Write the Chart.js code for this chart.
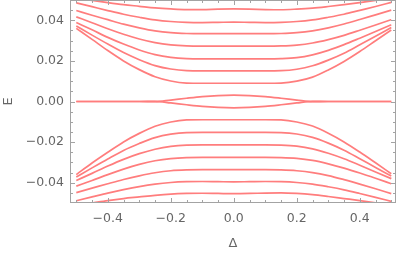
<!DOCTYPE html>
<html><head><meta charset="utf-8">
<style>html,body{margin:0;padding:0;background:#fff;}</style>
<script src="https://cdn.jsdelivr.net/npm/chart.js@4/dist/chart.umd.min.js"></script>
</head><body>
<canvas id="c" width="399" height="254"></canvas>
<script>
// ---- data ----
const delta = [-0.5,-0.45,-0.4,-0.35,-0.3,-0.25,-0.2,-0.15,-0.1,-0.05,0,0.05,0.1,0.15,0.2,0.25,0.3,0.35,0.4,0.45,0.5];

const up1 = [0.0360,0.0306,0.0251,0.0200,0.0157,0.0122,0.0101,0.0091,0.0090,0.0090,0.0090,0.0090,0.0090,0.0091,0.0100,0.0120,0.0155,0.0197,0.0246,0.0299,0.0352];
const up2 = [0.0372,0.0327,0.0283,0.0241,0.0206,0.0177,0.0160,0.0152,0.0151,0.0151,0.0151,0.0151,0.0151,0.0152,0.0159,0.0176,0.0204,0.0238,0.0279,0.0321,0.0364];
const up3 = [0.0389,0.0353,0.0316,0.0283,0.0254,0.0231,0.0217,0.0211,0.0210,0.0210,0.0210,0.0210,0.0210,0.0211,0.0216,0.0230,0.0252,0.0280,0.0312,0.0345,0.0378];
const up4 = [0.0417,0.0388,0.0358,0.0331,0.0308,0.0290,0.0279,0.0274,0.0273,0.0273,0.0273,0.0273,0.0273,0.0274,0.0278,0.0288,0.0305,0.0326,0.0351,0.0377,0.0403];
const up5 = [0.0448,0.0425,0.0403,0.0381,0.0363,0.0348,0.0339,0.0335,0.0334,0.0334,0.0334,0.0334,0.0334,0.0335,0.0339,0.0348,0.0363,0.0382,0.0404,0.0427,0.0450];
const up6 = [0.0486,0.0467,0.0448,0.0430,0.0415,0.0402,0.0394,0.0390,0.0389,0.0390,0.0391,0.0390,0.0389,0.0390,0.0394,0.0402,0.0415,0.0430,0.0449,0.0468,0.0488];
const up7 = [0.0509,0.0498,0.0487,0.0477,0.0469,0.0461,0.0456,0.0453,0.0453,0.0455,0.0456,0.0455,0.0453,0.0452,0.0455,0.0460,0.0468,0.0477,0.0487,0.0498,0.0509];

const splitUp   = [0,0,0,0,0,-0.0001,0.0007,0.0016,0.0024,0.0029,0.0031,0.0029,0.0024,0.0016,0.0007,-0.0001,0,0,0,0,0];
const splitDown = [0,0,0,0,0,0.0001,-0.0007,-0.0016,-0.0024,-0.0029,-0.0031,-0.0029,-0.0024,-0.0016,-0.0007,0.0001,0,0,0,0,0];

const lo1 = [-0.0360,-0.0303,-0.0250,-0.0199,-0.0157,-0.0122,-0.0101,-0.0091,-0.0090,-0.0090,-0.0090,-0.0090,-0.0090,-0.0091,-0.0101,-0.0121,-0.0156,-0.0199,-0.0249,-0.0302,-0.0356];
const lo2 = [-0.0372,-0.0327,-0.0283,-0.0241,-0.0207,-0.0178,-0.0161,-0.0153,-0.0152,-0.0152,-0.0152,-0.0152,-0.0152,-0.0153,-0.0160,-0.0177,-0.0205,-0.0240,-0.0282,-0.0325,-0.0367];
const lo3 = [-0.0389,-0.0354,-0.0318,-0.0285,-0.0257,-0.0235,-0.0221,-0.0215,-0.0214,-0.0214,-0.0214,-0.0214,-0.0214,-0.0215,-0.0220,-0.0233,-0.0255,-0.0282,-0.0314,-0.0347,-0.0380];
const lo4 = [-0.0417,-0.0389,-0.0360,-0.0333,-0.0310,-0.0292,-0.0281,-0.0276,-0.0275,-0.0275,-0.0275,-0.0275,-0.0275,-0.0276,-0.0280,-0.0290,-0.0307,-0.0328,-0.0352,-0.0378,-0.0405];
const lo5 = [-0.0449,-0.0427,-0.0405,-0.0384,-0.0366,-0.0351,-0.0341,-0.0337,-0.0336,-0.0336,-0.0336,-0.0336,-0.0336,-0.0337,-0.0341,-0.0350,-0.0365,-0.0385,-0.0407,-0.0430,-0.0454];
const lo6 = [-0.0489,-0.0470,-0.0451,-0.0434,-0.0419,-0.0407,-0.0399,-0.0395,-0.0394,-0.0395,-0.0396,-0.0395,-0.0394,-0.0395,-0.0399,-0.0407,-0.0420,-0.0435,-0.0453,-0.0472,-0.0492];
const lo7 = [-0.0512,-0.0500,-0.0488,-0.0478,-0.0470,-0.0462,-0.0456,-0.0453,-0.0452,-0.0453,-0.0454,-0.0453,-0.0451,-0.0450,-0.0453,-0.0459,-0.0468,-0.0478,-0.0488,-0.0499,-0.0511];

const xTickLabels = [-0.4,-0.2,0,0.2,0.4];
const yTickLabels = [-0.04,-0.02,0,0.02,0.04];
const xMinorStep = 0.05, yMinorStep = 0.005;

const curves = [up1,up2,up3,up4,up5,up6,up7,splitUp,splitDown,lo1,lo2,lo3,lo4,lo5,lo6,lo7];
const lineColor = 'rgb(255,125,125)';

const datasets = curves.map(arr => ({
  data: delta.map((d,i)=>({x:d,y:arr[i]})),
  borderColor: lineColor,
  borderWidth: 1.7,
  pointRadius: 0,
  fill: false,
  cubicInterpolationMode: 'monotone',
  clip: 0
}));

const fmt = (v, dig) => (v < 0 ? '\u2212' : '') + Math.abs(v).toFixed(dig);

const frameTicks = {
  id: 'frameTicks',
  afterDraw(chart) {
    const {ctx, chartArea: a, scales: {x, y}} = chart;
    ctx.save();
    ctx.strokeStyle = '#a3a3a3';
    ctx.lineWidth = 1;
    ctx.strokeRect(a.left + 0.5, a.top + 0.5, a.right - a.left - 1, a.bottom - a.top - 1);
    const isMajor = (v, list) => list.some(t => Math.abs(t - v) < 1e-9);
    ctx.beginPath();
    for (let k = -10; k <= 10; k++) {
      const v = +(k * xMinorStep).toFixed(4);
      if (v < x.min || v > x.max) continue;
      const px = Math.round(x.getPixelForValue(v)) + 0.5;
      const L = isMajor(v, xTickLabels) ? 5 : 3;
      ctx.moveTo(px, a.bottom); ctx.lineTo(px, a.bottom - L);
      ctx.moveTo(px, a.top); ctx.lineTo(px, a.top + L);
    }
    for (let k = -10; k <= 10; k++) {
      const v = +(k * yMinorStep).toFixed(4);
      const py = Math.round(y.getPixelForValue(v)) + 0.5;
      if (py < a.top + 1 || py > a.bottom - 1) continue;
      const L = isMajor(v, yTickLabels) ? 5 : 3;
      ctx.moveTo(a.left, py); ctx.lineTo(a.left + L, py);
      ctx.moveTo(a.right, py); ctx.lineTo(a.right - L, py);
    }
    ctx.stroke();
    ctx.restore();
  }
};

const tickFont = {family: 'DejaVu Sans', size: 12.5};

new Chart(document.getElementById('c'), {
  type: 'line',
  data: {datasets},
  plugins: [frameTicks],
  options: {
    responsive: false,
    animation: false,
    devicePixelRatio: 1,
    layout: {padding: {left: 0, right: 3, top: 0, bottom: 0}},
    plugins: {legend: {display: false}, tooltip: {enabled: false}},
    scales: {
      x: {
        type: 'linear', min: -0.52, max: 0.515,
        afterBuildTicks: s => { s.ticks = xTickLabels.map(v => ({value: v})); },
        afterFit: s => { s.height = 51; s.paddingLeft = 0; s.paddingRight = 0; },
        grid: {display: false, drawTicks: false},
        border: {display: false},
        ticks: {autoSkip: false, maxRotation: 0, padding: 8, color: '#666', font: tickFont,
                callback: v => fmt(v, 1)},
        title: {display: true, text: '\u0394', color: '#666', font: {family: 'DejaVu Sans', size: 13}, padding: {top: 0, bottom: 3}}
      },
      y: {
        type: 'linear', min: -0.05, max: 0.05,
        afterBuildTicks: s => { s.ticks = yTickLabels.map(v => ({value: v})); },
        afterFit: s => { s.width = 70; s.paddingTop = 0; s.paddingBottom = 0; },
        grid: {display: false, drawTicks: false},
        border: {display: false},
        ticks: {autoSkip: false, padding: 6, color: '#666', font: tickFont,
                callback: v => fmt(v, 2)},
        title: {display: true, text: 'E', color: '#666', font: {family: 'DejaVu Sans', size: 13}, padding: {top: 1, bottom: 0}}
      }
    }
  }
});
</script>
</body></html>
